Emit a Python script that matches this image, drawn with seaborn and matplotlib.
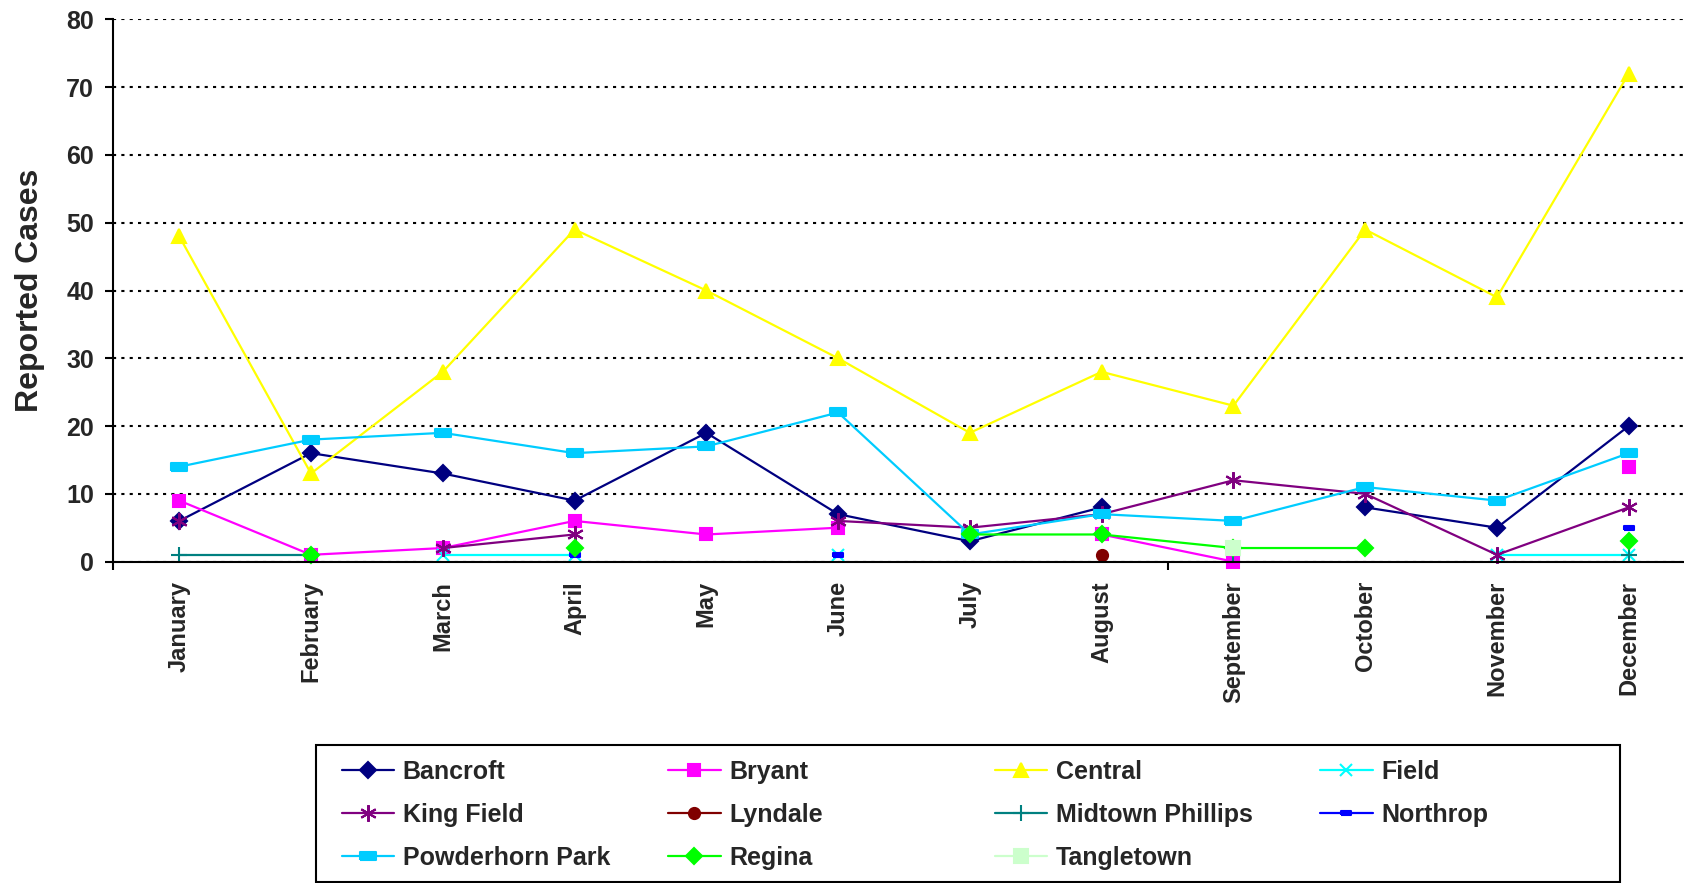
import numpy as np
import pandas as pd
import matplotlib
matplotlib.use("Agg")
import matplotlib.pyplot as plt
from matplotlib.lines import Line2D
from matplotlib.patches import Rectangle
import seaborn as sns

nan = np.nan

# DATA:
months = ['January', 'February', 'March', 'April', 'May', 'June', 'July',
          'August', 'September', 'October', 'November', 'December']
bancroft = [6, 16, 13, 9, 19, 7, 3, 8, nan, 8, 5, 20]
bryant = [9, 1, 2, 6, 4, 5, nan, 4, 0, nan, nan, 14]
central = [48, 13, 28, 49, 40, 30, 19, 28, 23, 49, 39, 72]
field = [nan, nan, 1, 1, nan, 1, nan, nan, nan, nan, 1, 1]
king_field = [6, nan, 2, 4, nan, 6, 5, 7, 12, 10, 1, 8]
lyndale = [nan, nan, nan, nan, nan, nan, nan, 1, nan, nan, nan, nan]
midtown_phillips = [1, 1, nan, nan, nan, nan, nan, nan, 1, nan, nan, 1]
northrop = [nan, nan, nan, 1, nan, 1, nan, nan, nan, nan, nan, 5]
powderhorn_park = [14, 18, 19, 16, 17, 22, 4, 7, 6, 11, 9, 16]
regina = [nan, 1, nan, 2, nan, nan, 4, 4, 2, 2, nan, 3]
tangletown = [nan, nan, nan, nan, nan, nan, nan, nan, 2, nan, nan, nan]

names = ['Bancroft', 'Bryant', 'Central', 'Field', 'King Field', 'Lyndale',
         'Midtown Phillips', 'Northrop', 'Powderhorn Park', 'Regina', 'Tangletown']
series = [bancroft, bryant, central, field, king_field, lyndale,
          midtown_phillips, northrop, powderhorn_park, regina, tangletown]

# STYLES:
rect = [(-1, -0.5), (1, -0.5), (1, 0.5), (-1, 0.5), (-1, -0.5)]
styles = {
    'Bancroft': dict(color='#000080', marker='D', ms=8),
    'Bryant': dict(color='#FF00FF', marker='s', ms=9),
    'Central': dict(color='#FFFF00', marker='^', ms=10),
    'Field': dict(color='#00FFFF', marker='x', ms=9),
    'King Field': dict(color='#800080', marker=(6, 2, 0), ms=12),
    'Lyndale': dict(color='#800000', marker='o', ms=8),
    'Midtown Phillips': dict(color='#008080', marker='+', ms=11),
    'Northrop': dict(color='#0000FF', marker=rect, ms=7),
    'Powderhorn Park': dict(color='#00CCFF', marker=rect, ms=11),
    'Regina': dict(color='#00FF00', marker='D', ms=8),
    'Tangletown': dict(color='#CCFFCC', marker='s', ms=10),
}


def runs(vals):
    # split a series into connected pieces (gaps where a value is missing)
    rows = []
    seg = 0
    prev_nan = True
    for i, v in enumerate(vals):
        if np.isnan(v):
            prev_nan = True
            continue
        if prev_nan:
            seg += 1
        prev_nan = False
        rows.append((i, v, seg))
    return pd.DataFrame(rows, columns=['pos', 'value', 'seg'])


sns.set_theme(style='white')
plt.rcParams['font.family'] = ['Liberation Sans', 'DejaVu Sans']
plt.rcParams['font.weight'] = 'bold'

fig = plt.figure(figsize=(16.84, 8.83), dpi=100)
ax = fig.add_axes([0.0673, 0.364, 0.939, 0.614])

for name, vals in zip(names, series):
    st = styles[name]
    df = runs(vals)
    sns.lineplot(data=df, x='pos', y='value', units='seg', estimator=None,
                 color=st['color'], marker=st['marker'], markersize=st['ms'],
                 markeredgecolor=st['color'], markerfacecolor=st['color'],
                 markeredgewidth=1.5, linewidth=1.6, clip_on=False,
                 legend=False, ax=ax)

# AXES:
ax.set_xlim(-0.5, 11.5)
ax.set_ylim(0, 80)
ax.set_yticks(range(0, 81, 10))
ax.set_xticks(range(12))
ax.set_xticklabels(months, rotation=90, fontsize=17, fontweight='bold',
                   va='top', ha='center')
ax.tick_params(axis='x', which='major', length=0, pad=14)
ax.set_xticks([-0.5, 7.5], minor=True)
ax.tick_params(axis='x', which='minor', length=6, width=1.5, color='black',
               direction='out', bottom=True)
ax.tick_params(axis='y', length=6, width=1.5, color='black', direction='out',
               left=True, labelsize=18, pad=8)
for lab in ax.get_yticklabels():
    lab.set_fontweight('bold')

ax.set_xlabel('')
ax.set_ylabel('Reported Cases', fontsize=23, fontweight='bold')
ax.yaxis.set_label_coords(-0.043, 0.5)

ax.yaxis.grid(True, color='black', linestyle=(0, (1.5, 2.5)), linewidth=1.5)
ax.xaxis.grid(False)
ax.set_axisbelow(True)
for s in ['top', 'right']:
    ax.spines[s].set_visible(False)
for s in ['left', 'bottom']:
    ax.spines[s].set_color('black')
    ax.spines[s].set_linewidth(1.5)

# LEGEND (4 fixed-width columns inside one box):
cols = [['Bancroft', 'King Field', 'Powderhorn Park'],
        ['Bryant', 'Lyndale', 'Regina'],
        ['Central', 'Midtown Phillips', 'Tangletown'],
        ['Field', 'Northrop']]
col_x = [341.5, 668, 994.5, 1320]
for cx, col in zip(col_x, cols):
    handles = []
    for name in col:
        st = styles[name]
        handles.append(Line2D([], [], color=st['color'], marker=st['marker'],
                              markersize=st['ms'], markeredgecolor=st['color'],
                              markerfacecolor=st['color'], markeredgewidth=1.5,
                              linewidth=1.6))
    fig.legend(handles, col, loc='upper left',
               bbox_to_anchor=(cx / 1684, (883 - 760) / 883),
               frameon=False, borderpad=0, borderaxespad=0,
               handlelength=2.1, handletextpad=0.35, labelspacing=0.76,
               prop={'size': 18, 'weight': 'bold'})

fig.patches.append(Rectangle((316 / 1684, 1 / 883), 1304 / 1684, 137 / 883,
                             transform=fig.transFigure, fill=False,
                             edgecolor='black', linewidth=1.5))

fig.savefig('out.png', dpi=100)
